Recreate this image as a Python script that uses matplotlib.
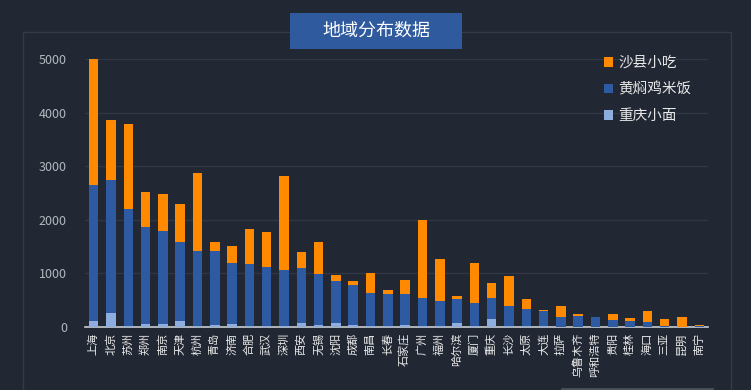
import matplotlib
matplotlib.use('Agg')
import matplotlib.pyplot as plt
from matplotlib.patches import Rectangle
import numpy as np

plt.rcParams['font.family'] = ['Noto Sans CJK SC', 'DejaVu Sans']

cities = ['上海', '北京', '苏州', '郑州', '南京', '天津', '杭州', '青岛', '济南', '合肥',
          '武汉', '深圳', '西安', '无锡', '沈阳', '成都', '南昌', '长春', '石家庄', '广州',
          '福州', '哈尔滨', '厦门', '重庆', '长沙', '太原', '大连', '拉萨', '乌鲁木齐', '呼和浩特',
          '贵阳', '桂林', '海口', '三亚', '昆明', '南宁']
# stacked bottom -> top
noodle = [110, 270, 15, 60, 50, 110, 20, 30, 50, 10,
          10, 20, 80, 30, 70, 30, 10, 10, 30, 15,
          10, 70, 10, 155, 10, 15, 10, 5, 5, 5,
          5, 5, 5, 0, 0, 0]
chicken = [2540, 2480, 2180, 1800, 1740, 1480, 1390, 1380, 1150, 1160,
           1115, 1040, 1030, 960, 780, 750, 620, 610, 590, 530,
           470, 450, 445, 390, 380, 320, 290, 190, 200, 175,
           125, 105, 85, 10, 5, 20]
shaxian = [2350, 1110, 1590, 650, 690, 710, 1460, 170, 320, 660,
           650, 1750, 280, 600, 125, 70, 370, 70, 265, 1445,
           785, 65, 735, 280, 570, 195, 20, 205, 40, 15,
           120, 55, 200, 145, 180, 20]
series_names = ['沙县小吃', '黄焖鸡米饭', '重庆小面']

bg = '#212733'
c_orange = '#ff8a00'
c_blue = '#2e5aa2'
c_light = '#8eaee0'

W, H = 751, 390
fig = plt.figure(figsize=(W / 100, H / 100), dpi=100, facecolor=bg)

def fx(px):
    return px / W

def fy(py):
    return 1 - py / H

# outer panel and title box
fig.patches.append(Rectangle((fx(23), fy(420)), fx(731) - fx(23), fy(32) - fy(420),
                             transform=fig.transFigure, fill=False,
                             edgecolor='#343b48', lw=1, zorder=0))
fig.patches.append(Rectangle((fx(290), fy(49)), fx(462) - fx(290), fy(13) - fy(49),
                             transform=fig.transFigure, facecolor='#2f5a9e',
                             edgecolor='none', zorder=1))
fig.text(fx(376), fy(31), '地域分布数据', color='white', fontsize=13,
         ha='center', va='center')
fig.add_artist(plt.Line2D([fx(562), fx(712)], [fy(388.5), fy(388.5)],
                          transform=fig.transFigure, color='#4a515c', lw=2))

ax = fig.add_axes([fx(85), fy(327), fx(708) - fx(85), fy(59) - fy(327)])
ax.set_facecolor(bg)

x = np.arange(len(cities))
noodle_a = np.array(noodle)
chicken_a = np.array(chicken)
shaxian_a = np.array(shaxian)
w = 0.55
ax.bar(x, noodle_a, w, color=c_light, label=series_names[2], zorder=3)
ax.bar(x, chicken_a, w, bottom=noodle_a, color=c_blue, label=series_names[1], zorder=3)
ax.bar(x, shaxian_a, w, bottom=noodle_a + chicken_a, color=c_orange,
       label=series_names[0], zorder=3)

ax.set_xlim(-0.5, len(cities) - 0.5)
ax.set_ylim(0, 5000)
ax.set_yticks(range(0, 5001, 1000))
ax.yaxis.grid(True, color='#2f3644', lw=1, zorder=0)
ax.set_axisbelow(True)
for s in ['top', 'right', 'left']:
    ax.spines[s].set_visible(False)
ax.spines['bottom'].set_color('#c8ccd2')
ax.spines['bottom'].set_linewidth(1.2)
ax.tick_params(axis='y', length=0, pad=13, labelsize=9, labelcolor='#b4b8be')
ax.tick_params(axis='x', length=0, pad=4)
ax.set_xticks(x)
ax.set_xticklabels(cities, rotation=90, fontsize=8, color='#ececec',
                   ha='center', va='top')

handles, labels = ax.get_legend_handles_labels()
leg = ax.legend(handles[::-1], labels[::-1], loc='upper left',
                bbox_to_anchor=(fx(604), fy(56)), bbox_transform=fig.transFigure,
                frameon=False, fontsize=10.5, labelcolor='#e8e8e8',
                handlelength=0.65, handleheight=0.65, handletextpad=0.35,
                labelspacing=0.85, borderpad=0, borderaxespad=0)

fig.savefig('out.png', dpi=100, facecolor=bg)
